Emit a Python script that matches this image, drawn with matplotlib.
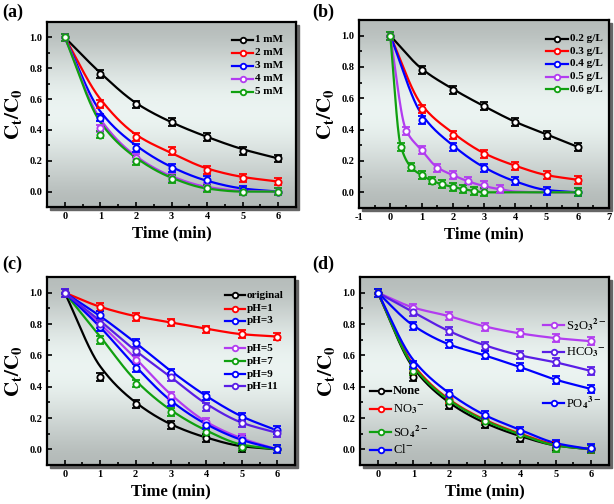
import numpy as np
import matplotlib
matplotlib.use('Agg')
import matplotlib.pyplot as plt
from matplotlib.patches import Rectangle

plt.rcParams['font.family'] = 'Liberation Serif'
plt.rcParams['mathtext.fontset'] = 'stix'
plt.rcParams['font.weight'] = 'bold'
plt.rcParams['axes.unicode_minus'] = False

# ---------------- data ----------------
t = [0, 1, 2, 3, 4, 5, 6]

# (a) oxidant dose
a_labels = ['1 mM', '2 mM', '3 mM', '4 mM', '5 mM']
a_data = [[1, 0.765, 0.565, 0.45, 0.355, 0.265, 0.215],
          [1, 0.57, 0.355, 0.265, 0.14, 0.09, 0.065],
          [1, 0.48, 0.285, 0.155, 0.075, 0.01, 0.0],
          [1, 0.41, 0.22, 0.09, 0.03, 0.0, 0.0],
          [1, 0.37, 0.20, 0.08, 0.02, 0.0, 0.0]]
a_fit = [[1, 0.77, 0.575, 0.45, 0.355, 0.275, 0.215],
         [1, 0.60, 0.37, 0.25, 0.15, 0.095, 0.065],
         [1, 0.52, 0.30, 0.16, 0.07, 0.02, 0.0],
         [1, 0.47, 0.23, 0.10, 0.03, 0.005, 0.0],
         [1, 0.45, 0.22, 0.09, 0.02, 0.0, 0.0]]

# (b) catalyst dose
b_labels = ['0.2 g/L', '0.3 g/L', '0.4 g/L', '0.5 g/L', '0.6 g/L']
b_t = [t, t, t,
       [0, 0.5, 1, 1.5, 2, 2.5, 3, 3.5],
       [0, 0.33, 0.67, 1, 1.33, 1.67, 2, 2.33, 2.67, 3, 6]]
b_data = [[1, 0.78, 0.655, 0.55, 0.45, 0.365, 0.29],
          [1, 0.53, 0.365, 0.245, 0.17, 0.11, 0.08],
          [1, 0.46, 0.29, 0.155, 0.07, 0.01, 0.0],
          [1, 0.39, 0.27, 0.155, 0.11, 0.075, 0.045, 0.02],
          [1, 0.29, 0.16, 0.11, 0.075, 0.055, 0.035, 0.02, 0.01, 0.0, 0.0]]
b_fit_t = [t, t, t,
           [0, 0.5, 1, 1.5, 2, 2.5, 3, 3.5, 4, 5, 6],
           [0, 0.33, 0.67, 1, 1.33, 1.67, 2, 2.33, 2.67, 3, 4, 5, 6]]
b_fit = [[1, 0.79, 0.66, 0.55, 0.45, 0.37, 0.29],
         [1, 0.56, 0.38, 0.25, 0.17, 0.11, 0.08],
         [1, 0.50, 0.30, 0.16, 0.07, 0.015, 0.0],
         [1, 0.40, 0.27, 0.16, 0.11, 0.07, 0.04, 0.02, 0.005, 0.0, 0.0],
         [1, 0.30, 0.16, 0.11, 0.075, 0.05, 0.035, 0.02, 0.01, 0.0, 0.0, 0.0, 0.0]]

# (c) initial pH
c_labels = ['original', 'pH=1', 'pH=3', 'pH=5', 'pH=7', 'pH=9', 'pH=11']
c_data = [[1, 0.46, 0.29, 0.155, 0.07, 0.01, 0.0],
          [1, 0.91, 0.845, 0.81, 0.765, 0.735, 0.72],
          [1, 0.86, 0.68, 0.49, 0.34, 0.205, 0.125],
          [1, 0.80, 0.57, 0.34, 0.175, 0.075, 0.0],
          [1, 0.70, 0.42, 0.24, 0.11, 0.015, 0.0],
          [1, 0.78, 0.52, 0.30, 0.155, 0.06, 0.0],
          [1, 0.80, 0.63, 0.46, 0.27, 0.165, 0.105]]
c_fit = [[1, 0.53, 0.30, 0.16, 0.075, 0.02, 0.0],
         [1, 0.91, 0.85, 0.81, 0.77, 0.735, 0.72],
         [1, 0.85, 0.68, 0.50, 0.34, 0.21, 0.12],
         [1, 0.80, 0.58, 0.35, 0.175, 0.07, 0.0],
         [1, 0.72, 0.44, 0.25, 0.12, 0.03, 0.0],
         [1, 0.78, 0.53, 0.31, 0.16, 0.06, 0.0],
         [1, 0.82, 0.63, 0.46, 0.29, 0.17, 0.105]]

# (d) co-existing anions
d_labels = [r'S$_2$O$_3$$^{2-}$', r'HCO$_3$$^{-}$', r'PO$_4$$^{3-}$',
            'None', r'NO$_3$$^{-}$', r'SO$_4$$^{2-}$', r'Cl$^{-}$']
d_data = [[1, 0.905, 0.85, 0.78, 0.74, 0.71, 0.69],
          [1, 0.875, 0.755, 0.66, 0.60, 0.56, 0.50],
          [1, 0.785, 0.67, 0.60, 0.525, 0.44, 0.385],
          [1, 0.46, 0.285, 0.16, 0.07, 0.02, 0.0],
          [1, 0.50, 0.32, 0.19, 0.10, 0.03, 0.0],
          [1, 0.50, 0.31, 0.18, 0.095, 0.01, 0.0],
          [1, 0.54, 0.355, 0.22, 0.12, 0.035, 0.01]]
d_fit = [[1, 0.905, 0.85, 0.785, 0.74, 0.71, 0.69],
         [1, 0.875, 0.755, 0.665, 0.60, 0.555, 0.50],
         [1, 0.79, 0.67, 0.60, 0.525, 0.445, 0.385],
         [1, 0.52, 0.30, 0.17, 0.085, 0.025, 0.0],
         [1, 0.54, 0.32, 0.19, 0.10, 0.03, 0.0],
         [1, 0.53, 0.315, 0.185, 0.095, 0.025, 0.0],
         [1, 0.57, 0.36, 0.22, 0.125, 0.04, 0.0]]

err = 0.025

BLACK, RED, BLUE = '#000000', '#ff0000', '#0000ff'
VIOLET, GREEN, INDIGO = '#b23cf0', '#10a010', '#5a1ee6'
a_colors = [BLACK, RED, BLUE, VIOLET, GREEN]
c_colors = [BLACK, RED, BLUE, VIOLET, GREEN, BLUE, INDIGO]
d_colors = [VIOLET, INDIGO, BLUE, BLACK, RED, GREEN, BLUE]


def smooth(x, y, n=300):
    # monotone cubic (Fritsch-Carlson) through the fit values
    x = np.asarray(x, float)
    y = np.asarray(y, float)
    h = np.diff(x)
    d = np.diff(y) / h
    m = np.zeros_like(y)
    m[0], m[-1] = d[0], d[-1]
    for i in range(1, len(x) - 1):
        if d[i - 1] * d[i] > 0:
            w1 = 2 * h[i] + h[i - 1]
            w2 = h[i] + 2 * h[i - 1]
            m[i] = (w1 + w2) / (w1 / d[i - 1] + w2 / d[i])
    xs = np.linspace(x[0], x[-1], n)
    k = np.clip(np.searchsorted(x, xs) - 1, 0, len(x) - 2)
    s = (xs - x[k]) / h[k]
    h00 = 2 * s**3 - 3 * s**2 + 1
    h10 = s**3 - 2 * s**2 + s
    h01 = -2 * s**3 + 3 * s**2
    h11 = s**3 - s**2
    ys = h00 * y[k] + h10 * h[k] * m[k] + h01 * y[k + 1] + h11 * h[k] * m[k + 1]
    return xs, ys


def setup(ax, xlim, xticks):
    ax.set_xlim(*xlim)
    ax.set_ylim(-0.1, 1.1)
    ax.set_xticks(xticks)
    ax.set_xticks(np.arange(xlim[0], xlim[1] + 0.01, 0.5), minor=True)
    ax.set_yticks([0, 0.2, 0.4, 0.6, 0.8, 1.0])
    ax.set_yticks(np.arange(-0.1, 1.11, 0.1), minor=True)
    ax.set_yticklabels(['0.0', '0.2', '0.4', '0.6', '0.8', '1.0'])
    ax.tick_params(which='both', direction='in', labelsize=7.5, width=1.2)
    ax.tick_params(which='major', length=3.5)
    ax.tick_params(which='minor', length=2)
    for lab in ax.get_xticklabels() + ax.get_yticklabels():
        lab.set_fontweight('bold')
    for sp in ax.spines.values():
        sp.set_linewidth(1.6)
    ax.set_xlabel('Time (min)', fontsize=12, fontweight='bold', labelpad=3)
    ax.set_ylabel(r'$\mathbf{C_t/C_0}$', fontsize=15, labelpad=4)
    # gradient background
    grad = np.array([0.74, 0.80, 0.87, 0.93, 0.96, 0.955, 0.91, 0.85, 0.79, 0.73])
    img = np.zeros((len(grad), 2, 3))
    img[:, :, 0] = grad[:, None] * 0.965
    img[:, :, 1] = grad[:, None]
    img[:, :, 2] = grad[:, None] * 0.99
    ax.imshow(img, extent=[0, 1, 0, 1], transform=ax.transAxes, aspect='auto',
              interpolation='bicubic', zorder=0)
    # drop shadow
    pos = ax.get_position()
    fig.patches.append(Rectangle((pos.x0 + 0.0045, pos.y0 - 0.0055), pos.width, pos.height,
                                 transform=fig.transFigure, color='#666666', zorder=-1))


def series(ax, x, y, xf, yf, color):
    xs, ys = smooth(xf, yf)
    ax.plot(xs, ys, color=color, lw=1.6, zorder=3)
    ax.errorbar(x, y, yerr=err, fmt='o', color=color, ms=4.5, mfc='white', mec=color,
                mew=1.3, elinewidth=1.3, capsize=3, capthick=1.3, zorder=4)


def key(ax, x, y, label, color, w=0.085, size=8, weight='bold'):
    ax.plot([x, x + w], [y, y], transform=ax.transAxes, color=color, lw=1.6, zorder=5)
    ax.plot([x + w / 2], [y], transform=ax.transAxes, marker='o', ms=4, mfc='white',
            mec=color, mew=1.3, zorder=6)
    ax.text(x + w + 0.008, y, label, transform=ax.transAxes, va='center', ha='left',
            fontsize=size, fontweight=weight, zorder=6)


fig = plt.figure(figsize=(6.14, 5.04), dpi=100)
W, H = 614, 504
def add_axes(l, r, top, bottom):
    return fig.add_axes([l / W, 1 - bottom / H, (r - l) / W, (bottom - top) / H])

ax_a = add_axes(47, 296, 22, 207)
ax_b = add_axes(359, 609, 20, 208)
ax_c = add_axes(47, 295, 277, 465)
ax_d = add_axes(360, 609, 277, 465)

# (a)
setup(ax_a, (-0.5, 6.5), range(0, 7))
for y, yf, col in zip(a_data, a_fit, a_colors):
    series(ax_a, t, y, t, yf, col)
for i, (lab, col) in enumerate(zip(a_labels, a_colors)):
    key(ax_a, 0.744, 0.903 - 0.07 * i, lab, col)

# (b)
setup(ax_b, (-1, 7), range(-1, 8))
for x, y, xf, yf, col in zip(b_t, b_data, b_fit_t, b_fit, a_colors):
    series(ax_b, x, y, xf, yf, col)
for i, (lab, col) in enumerate(zip(b_labels, a_colors)):
    key(ax_b, 0.749, 0.90 - 0.067 * i, lab, col)

# (c)
setup(ax_c, (-0.5, 6.5), range(0, 7))
for y, yf, col in zip(c_data, c_fit, c_colors):
    series(ax_c, t, y, t, yf, col)
c_key_y = [0.904, 0.83, 0.766, 0.622, 0.553, 0.484, 0.42]
for lab, col, yk in zip(c_labels, c_colors, c_key_y):
    key(ax_c, 0.718, yk, lab, col, w=0.08)

# (d)
setup(ax_d, (-0.5, 6.5), range(0, 7))
for y, yf, col in zip(d_data, d_fit, d_colors):
    series(ax_d, t, y, t, yf, col)
d_key_x = [0.735, 0.735, 0.735, 0.04, 0.04, 0.04, 0.04]
d_key_y = [0.745, 0.601, 0.33, 0.394, 0.298, 0.176, 0.08]
for lab, col, xk, yk in zip(d_labels, d_colors, d_key_x, d_key_y):
    wt = 'bold' if lab == 'None' else 'normal'
    key(ax_d, xk, yk, lab, col, w=0.085, size=9, weight=wt)

for lab, (x, y) in zip(['(a)', '(b)', '(c)', '(d)'],
                       [(2, 12), (312, 12), (2, 264), (312, 264)]):
    fig.text(x / W, 1 - y / H, lab, fontsize=13, fontweight='bold', va='center', ha='left')

fig.savefig('out.png', dpi=100)
